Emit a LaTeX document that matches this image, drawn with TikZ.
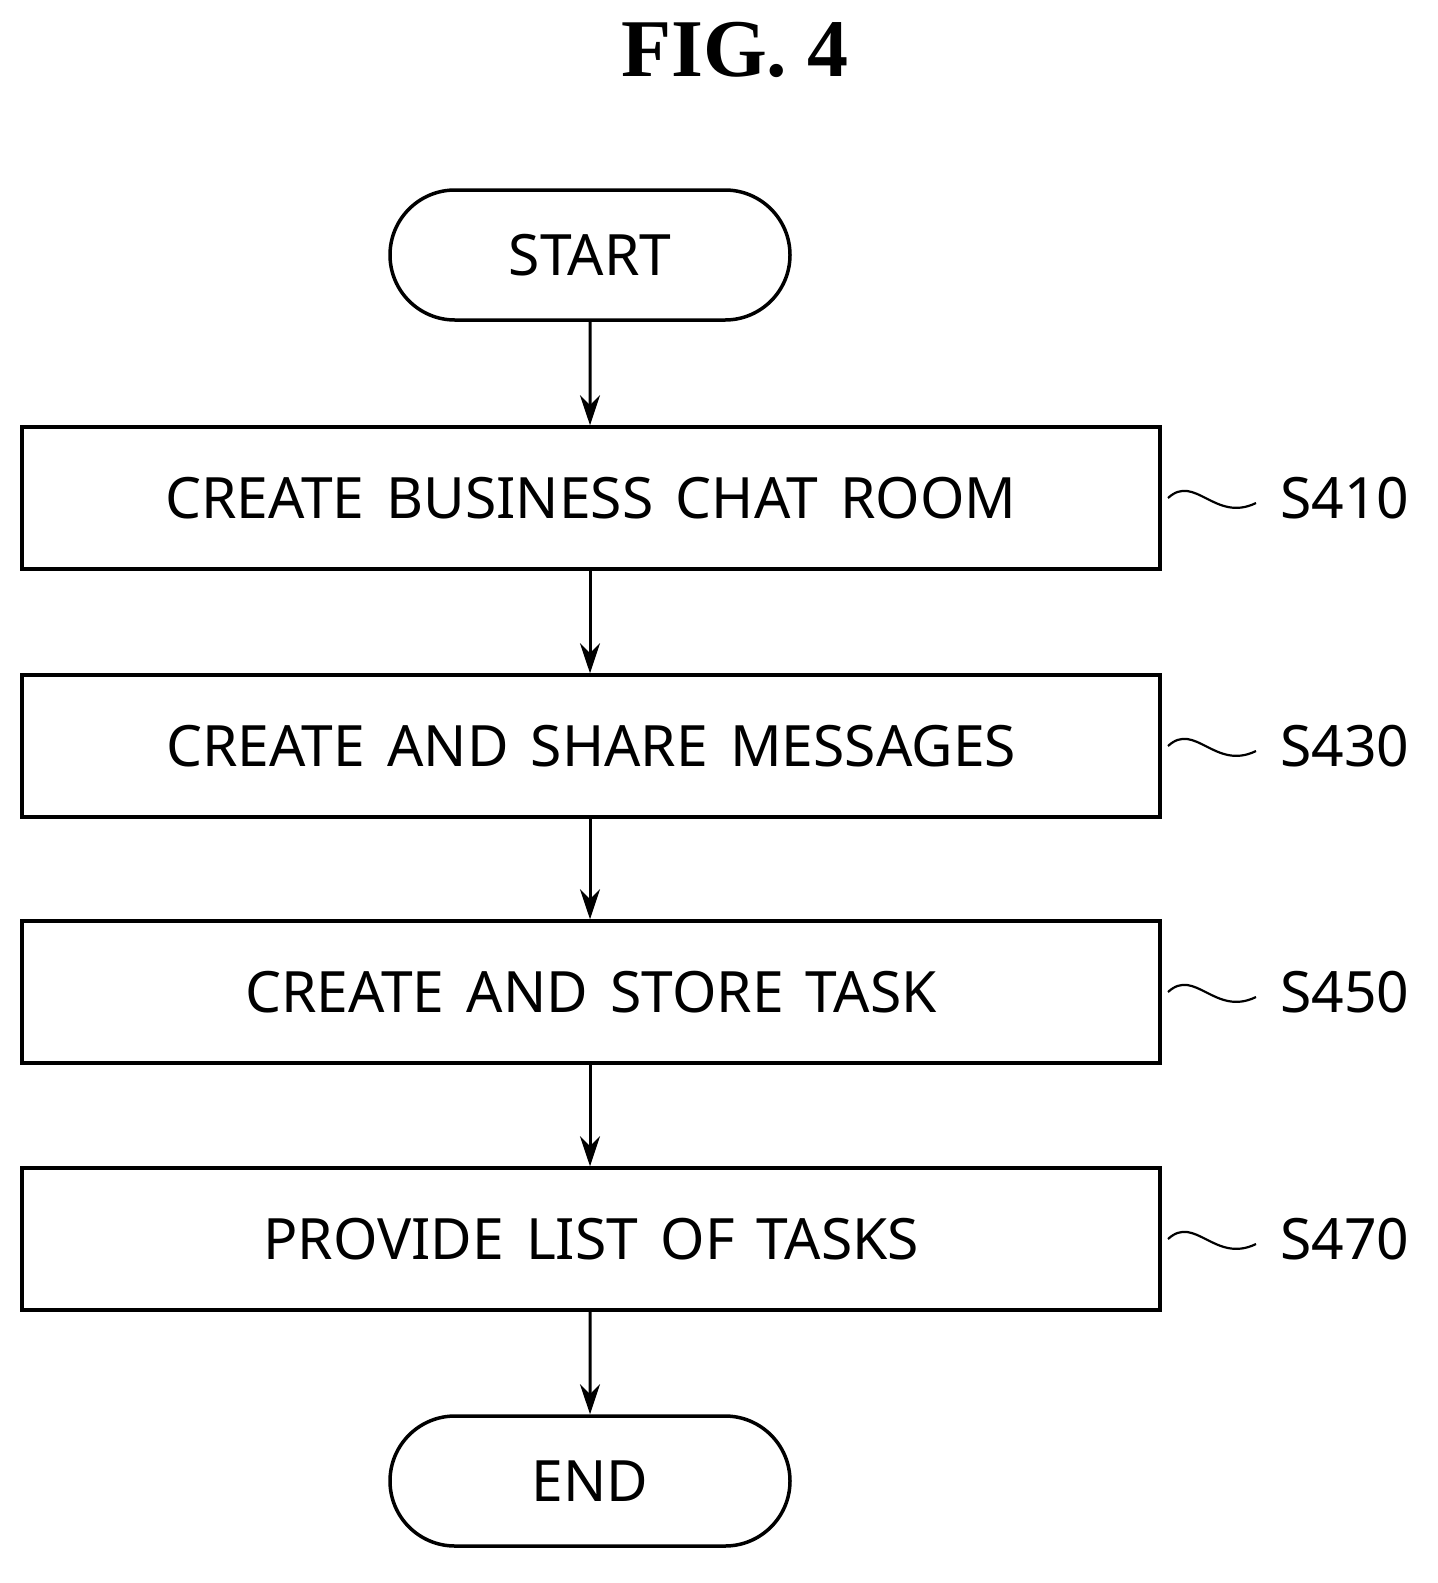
\documentclass[tikz,border=0pt]{standalone}
\usepackage{fontspec}
\setmainfont{Noto Sans}[WordSpace={1.5,0,0}]
\newfontfamily\titlefont{Liberation Serif}
\usetikzlibrary{arrows.meta,shapes.misc}
\begin{document}
\begin{tikzpicture}[x=1pt,y=-1pt,
  box/.style={draw,line width=3.5pt,minimum width=1138pt,minimum height=142pt,inner sep=0pt,font=\fontsize{57}{60}\selectfont},
  term/.style={draw,line width=3.5pt,rounded rectangle,minimum width=400pt,minimum height=130pt,inner sep=0pt,font=\fontsize{57}{60}\selectfont},
  arr/.style={line width=3pt,-{Stealth[length=30pt,width=20pt]}},
  lbl/.style={font=\fontsize{57}{60}\selectfont,anchor=west,inner sep=0pt},
  tl/.style={line width=2.2pt}]
\useasboundingbox (0,0) rectangle (1438,1583);
\node[font=\titlefont\bfseries\fontsize{82}{84}\selectfont] (title) at (735,50) {FIG. 4};
\node[term] (start) at (590,255) {START};
\node[box] (b1) at (591,498) {CREATE BUSINESS CHAT ROOM};
\node[box] (b2) at (591,746) {CREATE AND SHARE MESSAGES};
\node[box] (b3) at (591,992) {CREATE AND STORE TASK};
\node[box] (b4) at (591,1239) {PROVIDE LIST OF TASKS};
\node[term] (end) at (590,1481) {END};
\draw[arr] (start) -- (start|-b1.north);
\draw[arr] (b1.south-|start) -- (start|-b2.north);
\draw[arr] (b2.south-|start) -- (start|-b3.north);
\draw[arr] (b3.south-|start) -- (start|-b4.north);
\draw[arr] (b4.south-|start) -- (end);
\foreach \n/\l/\y in {b1/S410/498,b2/S430/746,b3/S450/992,b4/S470/1239}{
  \node[lbl] (\n l) at (1280,\y) {\l};
  \coordinate (\n t) at (1168,\y);
  \draw[tl] (\n t) .. controls (1195,\y-25) and (1215,\y+25) .. (1256,\y+5);
}
\end{tikzpicture}
\end{document}
